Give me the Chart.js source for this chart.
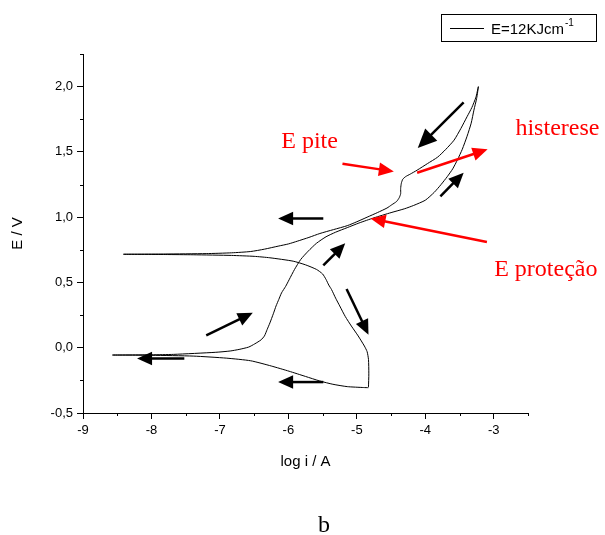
<!DOCTYPE html>
<html>
<head>
<meta charset="utf-8">
<script src="https://cdn.jsdelivr.net/npm/chart.js@4.4.0/dist/chart.umd.min.js"></script>
<style>
html, body { margin: 0; padding: 0; background: #fff; }
#wrap { width: 605px; height: 535px; }
</style>
</head>
<body>
<div id="wrap"><canvas id="myChart" width="605" height="535"></canvas></div>
<script>
// cyclic polarization curve, in scan order
var logI = [
    -4.83, -4.9, -5.14, -5.35, -5.54, -5.75, -5.99, -6.25, -6.55, -6.9, -7.39, -8.0, -8.57,
    -8.0, -7.68, -7.06, -6.85, -6.72, -6.58, -6.49, -6.40, -6.35, -6.31, -6.27, -6.22, -6.18, -6.14, -6.10, -6.04, -5.99,
    -5.91, -5.82, -5.71, -5.59, -5.45, -5.31, -5.14, -4.97, -4.75, -4.5, -4.3, -4.17, -4.0, -3.87, -3.77, -3.68, -3.6,
    -3.53, -3.46, -3.39, -3.33, -3.29, -3.25, -3.225,
    -3.26, -3.32, -3.39, -3.48, -3.58, -3.70, -3.82, -3.97, -4.12, -4.22, -4.29, -4.33, -4.35, -4.36, -4.36, -4.38,
    -4.42, -4.49, -4.56, -4.70, -4.85, -5.0, -5.14, -5.34, -5.54, -5.70, -5.87, -6.0, -6.15, -6.35, -6.55, -6.83,
    -7.2, -7.8, -8.41,
    -7.8, -7.39, -6.83, -6.5, -6.27, -5.93, -5.75, -5.59, -5.5, -5.45, -5.41, -5.37, -5.31, -5.25, -5.17, -5.08,
    -4.98, -4.89, -4.85, -4.83, -4.825, -4.83
];
var potential = [
    -0.306, -0.305, -0.298, -0.28, -0.255, -0.22, -0.18, -0.14, -0.10, -0.08, -0.064, -0.058, -0.056,
    -0.054, -0.051, -0.035, -0.025, -0.013, 0.005, 0.03, 0.06, 0.09, 0.14, 0.19, 0.26, 0.32, 0.37, 0.42, 0.47, 0.52,
    0.60, 0.676, 0.74, 0.80, 0.85, 0.885, 0.92, 0.955, 0.995, 1.035, 1.065, 1.09, 1.13, 1.19, 1.25, 1.31, 1.37,
    1.44, 1.52, 1.62, 1.72, 1.82, 1.91, 2.0,
    1.92, 1.84, 1.77, 1.68, 1.59, 1.52, 1.46, 1.41, 1.36, 1.33, 1.31, 1.29, 1.26, 1.22, 1.18, 1.15,
    1.12, 1.095, 1.07, 1.035, 1.0, 0.965, 0.935, 0.905, 0.875, 0.845, 0.816, 0.795, 0.778, 0.755, 0.737, 0.727,
    0.721, 0.718, 0.716,
    0.714, 0.712, 0.707, 0.70, 0.689, 0.663, 0.635, 0.60, 0.565, 0.523, 0.48, 0.446, 0.38, 0.32, 0.24, 0.166,
    0.09, 0.013, -0.03, -0.09, -0.2, -0.30
];

var seriesName = 'E=12KJcm';
var seriesUnit = '-1';

// scan direction arrows: tail x, tail y, tip x, tip y (log i, E)
var blackTail = [[-5.49, 0.99], [-5.49, 0.63], [-5.15, 0.45], [-7.2, 0.094], [-7.52, -0.082], [-5.49, -0.263], [-3.44, 1.88], [-3.78, 1.16]];
var blackTip  = [[-6.15, 0.99], [-5.17, 0.80], [-4.83, 0.10], [-6.52, 0.268], [-8.21, -0.082], [-6.15, -0.263], [-4.11, 1.53], [-3.44, 1.34]];
var blackHead = [15, 15, 15, 15, 15, 15, 19, 15];

var redTail = [[-5.21, 1.41], [-4.12, 1.34], [-3.10, 0.81]];
var redTip  = [[-4.46, 1.35], [-3.09, 1.52], [-4.80, 0.99]];

var noteText = ['E pite', 'histerese', 'E proteção'];
var noteAt = [[-5.69, 1.58], [-2.07, 1.68], [-2.24, 0.60]];

function isMajorY(v) { return Math.abs(v * 2 - Math.round(v * 2)) < 1e-6; }
function isMajorX(v) { return Math.abs(v - Math.round(v)) < 1e-6; }

function arrow(ctx, x0, y0, x1, y1, color, head) {
    var a = Math.atan2(y1 - y0, x1 - x0);
    var half = head * 0.45;
    var bx = x1 - head * Math.cos(a), by = y1 - head * Math.sin(a);
    ctx.strokeStyle = color;
    ctx.lineWidth = 2.5;
    ctx.beginPath();
    ctx.moveTo(x0, y0);
    ctx.lineTo(bx + Math.cos(a), by + Math.sin(a));
    ctx.stroke();
    ctx.fillStyle = color;
    ctx.beginPath();
    ctx.moveTo(x1, y1);
    ctx.lineTo(bx + half * Math.sin(a), by - half * Math.cos(a));
    ctx.lineTo(bx - half * Math.sin(a), by + half * Math.cos(a));
    ctx.closePath();
    ctx.fill();
}

var extras = {
    id: 'extras',
    afterDraw: function (chart) {
        var ctx = chart.ctx, xs = chart.scales.x, ys = chart.scales.y;
        var area = chart.chartArea;
        ctx.save();

        // short minor ticks
        ctx.strokeStyle = '#000';
        ctx.lineWidth = 1;
        ctx.beginPath();
        xs.ticks.forEach(function (t) {
            if (isMajorX(t.value)) return;
            var px = Math.round(xs.getPixelForValue(t.value)) + 0.5;
            ctx.moveTo(px, area.bottom);
            ctx.lineTo(px, area.bottom + 3);
        });
        ys.ticks.forEach(function (t) {
            if (isMajorY(t.value)) return;
            var py = Math.round(ys.getPixelForValue(t.value)) + 0.5;
            ctx.moveTo(area.left, py);
            ctx.lineTo(area.left - 3, py);
        });
        ctx.stroke();

        blackTail.forEach(function (p, i) {
            arrow(ctx, xs.getPixelForValue(p[0]), ys.getPixelForValue(p[1]),
                xs.getPixelForValue(blackTip[i][0]), ys.getPixelForValue(blackTip[i][1]), '#000', blackHead[i]);
        });
        redTail.forEach(function (p, i) {
            arrow(ctx, xs.getPixelForValue(p[0]), ys.getPixelForValue(p[1]),
                xs.getPixelForValue(redTip[i][0]), ys.getPixelForValue(redTip[i][1]), '#ff0000', 15);
        });

        ctx.fillStyle = '#ff0000';
        ctx.font = '24px "Liberation Serif", "Times New Roman", serif';
        ctx.textAlign = 'center';
        ctx.textBaseline = 'middle';
        noteText.forEach(function (s, i) {
            ctx.fillText(s, xs.getPixelForValue(noteAt[i][0]), ys.getPixelForValue(noteAt[i][1]));
        });

        // legend box
        ctx.strokeStyle = '#000';
        ctx.lineWidth = 1;
        ctx.strokeRect(441.5, 14.5, 155, 27);
        ctx.beginPath();
        ctx.moveTo(450, 28.5);
        ctx.lineTo(484, 28.5);
        ctx.stroke();
        ctx.fillStyle = '#000';
        ctx.textAlign = 'left';
        ctx.textBaseline = 'alphabetic';
        ctx.font = '15px "Liberation Sans", Arial, sans-serif';
        ctx.fillText(seriesName, 491, 34);
        var w = ctx.measureText(seriesName).width;
        ctx.font = '10px "Liberation Sans", Arial, sans-serif';
        ctx.fillText(seriesUnit, 491 + w + 1, 26);

        // panel letter
        ctx.font = '24px "Liberation Serif", "Times New Roman", serif';
        ctx.textAlign = 'center';
        ctx.fillText('b', 324, 532);
        ctx.restore();
    }
};

var tickFont = { family: '"Liberation Sans", Arial, sans-serif', size: 13 };
var titleFont = { family: '"Liberation Sans", Arial, sans-serif', size: 15 };

var ctx = document.getElementById('myChart').getContext('2d');
new Chart(ctx, {
    type: 'scatter',
    data: {
        datasets: [{
            label: seriesName,
            data: logI.map(function (x, i) { return { x: x, y: potential[i] }; }),
            showLine: true,
            borderColor: '#000',
            borderWidth: 1,
            pointRadius: 0,
            tension: 0.2,
            fill: false
        }]
    },
    plugins: [extras],
    options: {
        responsive: false,
        animation: false,
        layout: { padding: { left: 0, top: 54, right: 77, bottom: 60 } },
        plugins: { legend: { display: false }, tooltip: { enabled: false } },
        scales: {
            x: {
                type: 'linear',
                min: -9, max: -2.5,
                afterFit: function (s) { s.height = 62; },
                border: { display: true, color: '#000', width: 1 },
                grid: {
                    drawOnChartArea: false, tickLength: 6,
                    tickColor: function (c) { return isMajorX(c.tick.value) ? '#000' : 'rgba(0,0,0,0)'; }
                },
                ticks: {
                    stepSize: 0.5, color: '#000', font: tickFont, padding: 4, maxRotation: 0, autoSkip: false,
                    callback: function (v) { return isMajorX(v) ? String(Math.round(v)) : ''; }
                },
                title: { display: true, text: 'log i / A', color: '#000', font: titleFont, padding: { top: 0, bottom: 4 } }
            },
            y: {
                type: 'linear',
                min: -0.5, max: 2.25,
                afterFit: function (s) { s.width = 83; },
                border: { display: true, color: '#000', width: 1 },
                grid: {
                    drawOnChartArea: false, tickLength: 6,
                    tickColor: function (c) { return isMajorY(c.tick.value) ? '#000' : 'rgba(0,0,0,0)'; }
                },
                ticks: {
                    stepSize: 0.25, color: '#000', font: tickFont, padding: 4, autoSkip: false,
                    callback: function (v) { return isMajorY(v) ? v.toFixed(1).replace('.', ',') : ''; }
                },
                title: { display: true, text: 'E / V', color: '#000', font: titleFont, padding: { top: 9, bottom: 0 } }
            }
        }
    }
});
</script>
</body>
</html>
